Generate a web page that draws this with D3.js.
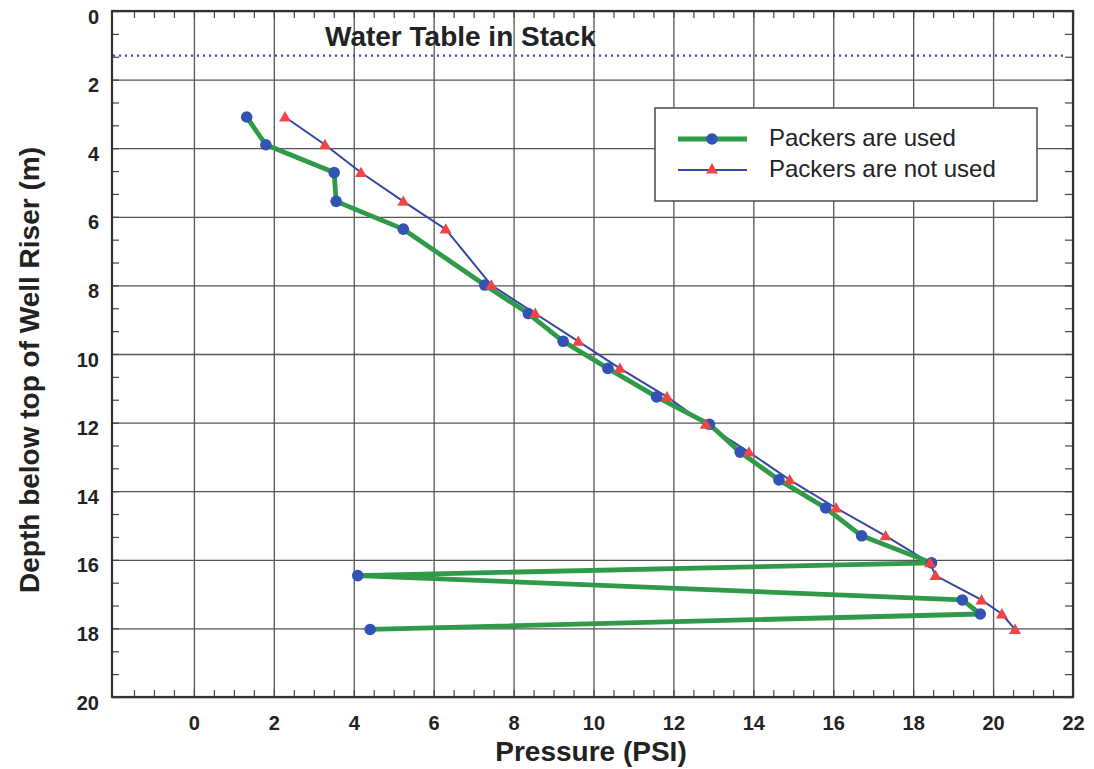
<!DOCTYPE html>
<html>
<head>
<meta charset="utf-8">
<script src="https://cdn.jsdelivr.net/npm/d3@7"></script>
<style>
  body { margin: 0; background: #fff; }
  text { font-family: "Liberation Sans", Arial, sans-serif; fill: #222; }
</style>
</head>
<body>
<div id="chart"></div>
<script>
// depth (m) of each reading, shared by both series
const depths = [3.09, 3.9, 4.71, 5.55, 6.36, 7.99, 8.82, 9.63, 10.42, 11.25,
                12.05, 12.86, 13.67, 14.49, 15.3, 16.09, 16.46, 17.17, 17.58, 18.03];
// pressure (PSI)
const pressureWithPackers = [1.32, 1.8, 3.51, 3.56, 5.24, 7.28, 8.37, 9.24, 10.36, 11.58,
                             12.9, 13.67, 14.64, 15.81, 16.71, 18.46, 4.1, 19.23, 19.68, 4.41];
const pressureWithoutPackers = [2.28, 3.28, 4.18, 5.24, 6.3, 7.44, 8.54, 9.62, 10.66, 11.84,
                                12.81, 13.89, 14.91, 16.07, 17.31, 18.42, 18.56, 19.71, 20.22, 20.55];
const seriesNames = ["Packers are used", "Packers are not used"];
const xTickValues = [0, 2, 4, 6, 8, 10, 12, 14, 16, 18, 20, 22];
const yTickValues = [0, 2, 4, 6, 8, 10, 12, 14, 16, 18, 20];
const waterTableDepth = 1.3;

const MARGIN = { TOP: 11, BOTTOM: 72, LEFT: 112, RIGHT: 21 };
const WIDTH = 1094 - MARGIN.LEFT - MARGIN.RIGHT;
const HEIGHT = 769 - MARGIN.TOP - MARGIN.BOTTOM;

const GREEN = "#2f9a48", BLUE_DOT = "#3452b4", RED = "#ee4646", BLUE_LINE = "#3346a0";

const svg = d3.select("#chart")
  .append("svg")
    .attr("width", WIDTH + MARGIN.LEFT + MARGIN.RIGHT)
    .attr("height", HEIGHT + MARGIN.TOP + MARGIN.BOTTOM)
  .append("g")
    .attr("transform", `translate(${MARGIN.LEFT}, ${MARGIN.TOP})`);

const x = d3.scaleLinear().domain([-2.05, 22]).range([0, WIDTH]);
const y = d3.scaleLinear().domain([0, 20]).range([0, HEIGHT]);

// grid
svg.append("g")
    .attr("transform", `translate(0, ${HEIGHT})`)
    .call(d3.axisBottom(x).tickValues(xTickValues).tickSize(-HEIGHT).tickFormat(""))
    .call(g => g.select(".domain").remove())
    .call(g => g.selectAll("line").attr("stroke", "#555").attr("stroke-width", 1.3));
svg.append("g")
    .call(d3.axisLeft(y).tickValues(yTickValues).tickSize(-WIDTH).tickFormat(""))
    .call(g => g.select(".domain").remove())
    .call(g => g.selectAll("line").attr("stroke", "#555").attr("stroke-width", 1.3));

// minor ticks pointing inward on all four sides
const xMinor = d3.range(-1.5, 22.01, 0.5);
const yMinor = d3.range(0, 20.01, 2 / 3);
const minorStyle = g => {
  g.select(".domain").remove();
  g.selectAll("line").attr("stroke", "#444").attr("stroke-width", 1.2);
};
svg.append("g").attr("transform", `translate(0, ${HEIGHT})`)
    .call(d3.axisBottom(x).tickValues(xMinor).tickSize(-7).tickFormat("")).call(minorStyle);
svg.append("g")
    .call(d3.axisTop(x).tickValues(xMinor).tickSize(-7).tickFormat("")).call(minorStyle);
svg.append("g")
    .call(d3.axisLeft(y).tickValues(yMinor).tickSize(-7).tickFormat("")).call(minorStyle);
svg.append("g").attr("transform", `translate(${WIDTH}, 0)`)
    .call(d3.axisRight(y).tickValues(yMinor).tickSize(-8).tickFormat("")).call(minorStyle);

// tick labels
svg.append("g")
    .attr("transform", `translate(0, ${HEIGHT})`)
    .call(d3.axisBottom(x).tickValues(xTickValues).tickSize(0).tickPadding(19))
    .call(g => g.select(".domain").remove())
    .call(g => g.selectAll("text").attr("font-size", 20).attr("font-weight", "bold")
        .attr("font-family", "Liberation Sans, Arial, sans-serif").attr("fill", "#222"));
svg.append("g")
    .call(d3.axisLeft(y).tickValues(yTickValues).tickSize(0).tickPadding(13))
    .call(g => g.select(".domain").remove())
    .call(g => g.selectAll("text").attr("font-size", 20).attr("font-weight", "bold").attr("dy", "0.6em")
        .attr("font-family", "Liberation Sans, Arial, sans-serif").attr("fill", "#222"));

// frame
svg.append("rect")
    .attr("width", WIDTH).attr("height", HEIGHT)
    .attr("fill", "none").attr("stroke", "#333").attr("stroke-width", 2.2);

// water table
svg.append("line")
    .attr("x1", 1).attr("x2", WIDTH - 8)
    .attr("y1", y(waterTableDepth)).attr("y2", y(waterTableDepth))
    .attr("stroke", "#3b4fa8").attr("stroke-width", 2.2).attr("stroke-dasharray", "2,4");
svg.append("text")
    .attr("x", 325 - MARGIN.LEFT).attr("y", 46 - MARGIN.TOP)
    .attr("font-size", 28).attr("font-weight", "bold")
    .text("Water Table in Stack");

// series
const withPackers = depths.map((d, i) => ({ d, p: pressureWithPackers[i] }));
const withoutPackers = depths.map((d, i) => ({ d, p: pressureWithoutPackers[i] }));
const line = d3.line().x(v => x(v.p)).y(v => y(v.d));
const triangle = d3.symbol().type(d3.symbolTriangle).size(62);

svg.append("path").datum(withoutPackers).attr("d", line)
    .attr("fill", "none").attr("stroke", BLUE_LINE).attr("stroke-width", 2);
svg.append("path").datum(withPackers).attr("d", line)
    .attr("fill", "none").attr("stroke", GREEN).attr("stroke-width", 4.8).attr("stroke-linejoin", "round");

svg.selectAll("circle.used").data(withPackers).enter().append("circle")
    .attr("class", "used")
    .attr("cx", v => x(v.p)).attr("cy", v => y(v.d)).attr("r", 5.8)
    .attr("fill", BLUE_DOT);
svg.selectAll("path.notused").data(withoutPackers).enter().append("path")
    .attr("class", "notused")
    .attr("d", triangle)
    .attr("transform", v => `translate(${x(v.p)}, ${y(v.d) + 1})`)
    .attr("fill", RED);

// legend
const legend = svg.append("g").attr("transform", `translate(${655 - MARGIN.LEFT}, ${108 - MARGIN.TOP})`);
legend.append("rect").attr("width", 382).attr("height", 93)
    .attr("fill", "#fff").attr("stroke", "#555").attr("stroke-width", 1.6);
const rows = [
  { name: seriesNames[0], color: GREEN, width: 4.8, mark: "circle" },
  { name: seriesNames[1], color: BLUE_LINE, width: 2, mark: "triangle" }
];
rows.forEach((r, i) => {
  const ry = 31 + i * 31;
  legend.append("line").attr("x1", 23).attr("x2", 92).attr("y1", ry).attr("y2", ry)
      .attr("stroke", r.color).attr("stroke-width", r.width);
  if (r.mark === "circle") {
    legend.append("circle").attr("cx", 57).attr("cy", ry).attr("r", 5.8).attr("fill", BLUE_DOT);
  } else {
    legend.append("path").attr("d", triangle).attr("transform", `translate(57, ${ry})`).attr("fill", RED);
  }
  legend.append("text").attr("x", 114).attr("y", ry + 7)
      .attr("font-size", 24).text(r.name);
});

// axis titles
svg.append("text")
    .attr("x", 591 - MARGIN.LEFT).attr("y", 761 - MARGIN.TOP)
    .attr("text-anchor", "middle")
    .attr("font-size", 28).attr("font-weight", "bold")
    .text("Pressure (PSI)");
svg.append("text")
    .attr("transform", `translate(${39 - MARGIN.LEFT}, ${370 - MARGIN.TOP}) rotate(-90)`)
    .attr("text-anchor", "middle")
    .attr("font-size", 28).attr("font-weight", "bold")
    .text("Depth below top of Well Riser (m)");
</script>
</body>
</html>
